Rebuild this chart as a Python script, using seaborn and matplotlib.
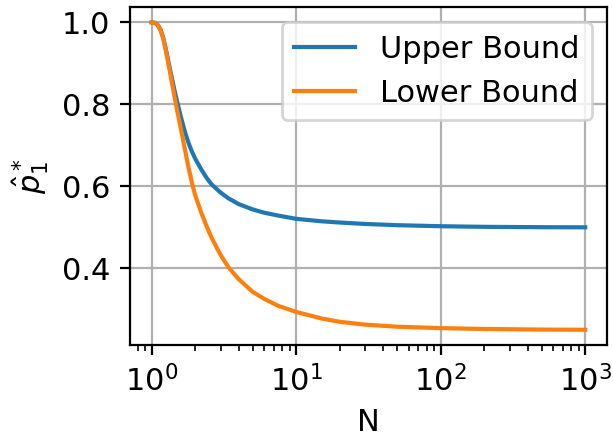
import numpy as np
import pandas as pd
import matplotlib
matplotlib.use('Agg')
import matplotlib.pyplot as plt
import seaborn as sns

# Values
n_values = [1.0, 1.05, 1.1, 1.15, 1.2, 1.25, 1.3, 1.35, 1.4, 1.45, 1.5, 1.6, 1.7,
            1.8, 1.9, 2.0, 2.2, 2.4, 2.6, 3.0, 3.4, 4.0, 5.0, 6.0, 7.5, 10, 15,
            20, 30, 50, 100, 200, 500, 1000]

upper_bound = [1.000, 0.999, 0.994, 0.983, 0.964, 0.937, 0.908, 0.880, 0.854,
               0.829, 0.807, 0.767, 0.733, 0.706, 0.685, 0.668, 0.642, 0.621,
               0.605, 0.585, 0.571, 0.557, 0.544, 0.536, 0.529, 0.521, 0.515,
               0.512, 0.5085, 0.5055, 0.503, 0.5015, 0.5006, 0.5003]

lower_bound = [1.000, 0.999, 0.994, 0.982, 0.962, 0.934, 0.903, 0.872, 0.842,
               0.813, 0.786, 0.737, 0.690, 0.646, 0.609, 0.579, 0.537, 0.503,
               0.475, 0.433, 0.403, 0.374, 0.343, 0.326, 0.309, 0.294, 0.278,
               0.270, 0.263, 0.258, 0.2545, 0.2525, 0.251, 0.2505]

series_labels = ['Upper Bound', 'Lower Bound']
series_colors = ['#1f77b4', '#ff7f0e']

# Long-form table for seaborn
df = pd.DataFrame({
    'N': n_values * 2,
    'p': upper_bound + lower_bound,
    'bound': [series_labels[0]] * len(n_values) + [series_labels[1]] * len(n_values),
})

plt.rcParams['font.size'] = 11

fig, ax = plt.subplots(figsize=(613 / 200, 438 / 200), dpi=200)
fig.subplots_adjust(left=0.212, right=0.990, top=0.984, bottom=0.212)

sns.lineplot(data=df, x='N', y='p', hue='bound', hue_order=series_labels,
             palette=series_colors, linewidth=1.5, ax=ax, sort=False)

ax.set_xscale('log')
ax.set_yticks([0.4, 0.6, 0.8, 1.0])
ax.set_xlabel('N')
ax.set_ylabel(r'$\hat{p}_1^*$')
ax.grid(True)
ax.legend(loc='upper right', title=None)

plt.savefig('out.png', dpi=200)
plt.close()
